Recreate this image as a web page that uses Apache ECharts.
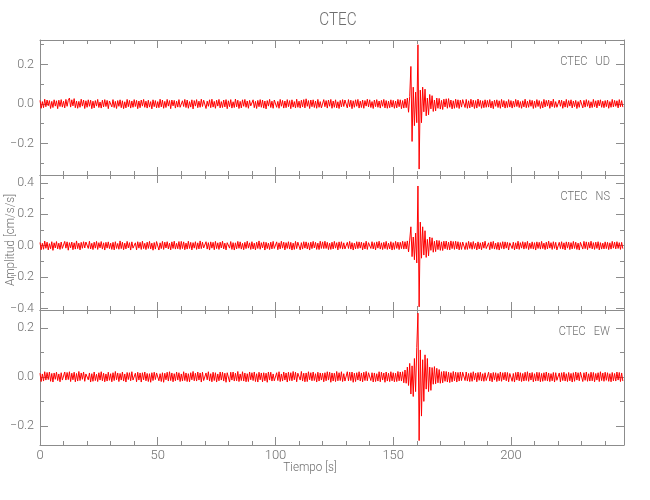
<!DOCTYPE html>
<html><head><meta charset="utf-8">
<script src="https://cdn.jsdelivr.net/npm/echarts@6/dist/echarts.min.js"></script>
<style>html,body{margin:0;padding:0;background:#fff}#c{width:650px;height:500px}</style>
</head><body><div id="c"></div>
<script>
const chartTitle = 'CTEC';
const componentLabels = ['CTEC   UD', 'CTEC   NS', 'CTEC   EW'];
const xAxisTitle = 'Tiempo [s]';
const yAxisTitle = 'Amplitud [cm/s/s]';
const xMax = 248;
const xLabelTicks = [0, 50, 100, 150, 200];
const xMinorTicks = [10,20,30,40,60,70,80,90,110,120,130,140,160,170,180,190,210,220,230,240];
const yLabelTicks = [[-0.2, 0, 0.2], [-0.4, -0.2, 0, 0.2, 0.4], [-0.2, 0, 0.2]];
const yMinorTicks = [[-0.3, -0.1, 0.1, 0.3], [-0.3, -0.1, 0.1, 0.3], [-0.1, 0.1]];
const yRanges = [[-0.36, 0.324], [-0.41, 0.45], [-0.278, 0.273]];
const sampleInterval = 0.5; // seconds between samples, starting at t = 0

const ud = [
.018,-.022,.012,-.019,.024,-.014,.020,-.009,.017,-.023,.013,-.018,.021,-.011,.016,-.024,.019,-.013,.022,-.016,
.014,-.020,.023,-.012,.018,.030,-.016,.021,-.010,.027,-.019,.015,-.022,.013,-.017,.024,-.011,.020,-.023,.016,
-.017,.021,-.012,.019,-.024,.014,-.020,.017,-.011,.023,-.018,.010,-.021,.019,-.015,.022,-.013,.018,-.024,.015,
.019,-.015,.022,-.018,.013,-.023,.017,-.012,.021,-.019,.016,-.024,.011,-.020,.023,-.014,.018,-.021,.015,-.017,
.022,-.013,.018,-.024,.015,-.019,.020,-.011,.023,-.017,.014,-.021,.019,-.016,.012,-.025,.021,-.014,.017,-.020,
.012,-.019,.024,-.015,.020,-.022,.013,-.018,.023,-.011,.017,-.024,.020,-.010,.018,-.021,.014,-.016,.022,-.017,
-.021,.016,-.013,.023,-.018,.020,-.022,.012,-.016,.021,-.025,.017,-.011,.022,-.019,.014,-.017,.024,-.013,.019,
.018,-.023,.014,-.012,.021,-.019,.024,-.016,.013,-.022,.019,-.011,.023,-.020,.012,-.018,.020,-.015,.022,-.024,
.016,-.014,.022,-.021,.011,-.018,.025,-.015,.019,-.023,.013,-.020,.021,-.012,.023,-.017,.015,-.022,.018,-.010,
-.015,.021,-.019,.013,-.023,.018,-.014,.022,-.017,.020,-.021,.015,-.025,.017,-.011,.023,-.018,.014,-.022,.020,
.020,-.017,.013,-.022,.023,-.012,.018,-.021,.015,-.019,.022,-.014,.017,-.024,.021,-.016,.012,-.020,.024,-.017,
.014,-.021,.019,-.015,.022,-.020,.026,-.012,.017,-.023,.020,-.014,.021,-.018,.015,-.022,.023,-.017,.012,-.020,
-.018,.022,-.014,.017,-.021,.020,-.012,.023,-.022,.015,-.017,.021,-.020,.011,-.023,.018,-.015,.022,-.013,.020,
.017,-.020,.022,-.014,.019,-.024,.016,-.017,.021,-.012,.023,-.021,.014,-.018,.020,-.022,.017,-.011,.024,-.015,
.021,-.018,.012,-.023,.020,-.014,.022,-.017,.015,-.021,.018,-.012,.023,-.020,.017,-.022,.014,-.019,.021,-.016,
.018,-.022,.015,-.020,.023,-.014,.021,-.024,.017,-.021,.025,-.019,.030,-.042,.038,.190,-.190,.085,-.110,.060,
-.095,.300,-.330,.070,-.095,.085,-.040,.075,-.060,.030,-.055,.048,-.025,.042,-.038,.020,-.035,.030,-.022,.028,
-.026,.018,-.028,.024,-.015,.026,-.022,.027,-.017,.020,-.025,.016,-.022,.024,-.018,.021,-.023,.019,-.016,.022,
.021,-.018,.023,-.022,.016,-.020,.024,-.015,.019,-.023,.017,-.021,.025,-.013,.018,-.022,.016,-.019,.021,-.017,
.018,-.016,.022,-.020,.014,-.024,.019,-.012,.021,-.018,.016,-.022,.023,-.015,.017,-.021,.013,-.018,.022,-.016,
.017,-.021,.014,-.016,.023,-.013,.019,-.018,.012,-.022,.016,-.015,.024,-.019,.014,-.017,.021,-.012,.018,-.023,
.015,-.018,.022,-.013,.017,-.023,.012,-.020,.023,-.015,.018,-.011,.020,-.022,.015,-.014,.024,-.018,.012,-.017,
-.017,.020,-.012,.019,-.022,.014,-.016,.023,-.018,.017,-.011,.021,-.020,.015,-.014,.018,-.023,.012,-.017,.020,
.014,-.020,.018,-.016,.022,-.012,.017,-.021,.011,-.018,.023,-.014,.016,-.020,.019,-.010,.021,-.017,.014,-.019,
.017,-.014,.020,-.022,.012,-.017,.023,-.015,.018,-.012,.016,-.020,.022,-.014,.017,-.016
];

const ns = [
.020,-.026,.015,-.023,.029,-.017,.022,-.027,.013,-.020,.025,-.030,.018,-.015,.026,-.021,.016,-.024,.023,-.018,
-.021,.027,-.016,.024,-.029,.019,-.014,.023,-.026,.018,-.022,.030,-.019,.016,-.027,.021,-.017,.025,-.015,.023,
.024,-.018,.028,-.021,.015,-.025,.022,-.016,.027,-.024,.019,-.014,.026,-.022,.018,-.028,.021,-.016,.024,-.019,
.016,-.024,.021,-.027,.025,-.018,.014,-.023,.030,-.019,.022,-.026,.016,-.021,.027,-.015,.019,-.028,.024,-.016,
-.023,.018,-.027,.025,-.016,.021,-.024,.028,-.019,.015,-.025,.022,-.018,.027,-.021,.016,-.029,.020,-.022,.026,
.021,-.028,.018,-.019,.027,-.024,.022,-.015,.025,-.021,.016,-.027,.024,-.018,.028,-.022,.015,-.020,.026,-.024,
.027,-.019,.024,-.026,.016,-.022,.028,-.018,.021,-.027,.019,-.016,.025,-.024,.018,-.021,.030,-.019,.022,-.015,
-.018,.025,-.022,.019,-.028,.024,-.016,.021,-.026,.027,-.019,.018,-.024,.022,-.015,.028,-.021,.016,-.027,.019,
.022,-.016,.026,-.024,.019,-.028,.018,-.021,.027,-.017,.024,-.022,.015,-.026,.021,-.019,.028,-.016,.018,-.024,
.025,-.021,.016,-.027,.022,-.018,.030,-.023,.019,-.015,.024,-.028,.021,-.019,.016,-.025,.022,-.021,.027,-.018,
-.019,.024,-.026,.018,-.021,.028,-.016,.022,-.027,.019,-.018,.025,-.022,.021,-.028,.016,-.024,.027,-.019,.022,
.021,-.027,.019,-.022,.025,-.016,.024,-.021,.018,-.028,.022,-.019,.027,-.015,.021,-.024,.016,-.025,.028,-.018,
.024,-.019,.028,-.018,.021,-.025,.016,-.024,.022,-.021,.027,-.016,.019,-.027,.024,-.018,.025,-.022,.018,-.021,
-.025,.021,-.018,.027,-.022,.019,-.028,.016,-.021,.025,-.019,.024,-.016,.022,-.027,.018,-.021,.028,-.024,.019,
.022,-.018,.025,-.021,.019,-.027,.024,-.016,.028,-.022,.018,-.025,.021,-.019,.027,-.024,.016,-.021,.025,-.028,
.019,-.024,.027,-.018,.022,-.025,.021,-.019,.028,-.022,.025,-.021,.030,-.040,.035,.120,-.070,.055,-.090,.080,
-.110,.380,-.390,.150,-.080,.120,-.060,.095,-.075,.040,-.065,.055,-.030,.050,-.042,.028,-.038,.034,-.025,.032,
-.030,.024,-.031,.028,-.020,.029,-.025,.022,-.027,.030,-.019,.026,-.024,.028,-.021,.025,-.027,.020,-.024,.023,
.022,-.025,.019,-.024,.027,-.018,.021,-.023,.026,-.019,.016,-.027,.024,-.021,.018,-.026,.022,-.016,.028,-.019,
-.021,.018,-.026,.024,-.019,.027,-.022,.016,-.024,.021,-.028,.019,-.018,.025,-.022,.024,-.016,.021,-.027,.018,
.025,-.019,.022,-.027,.018,-.021,.028,-.024,.019,-.016,.025,-.022,.021,-.018,.027,-.025,.016,-.019,.024,-.022,
.019,-.028,.024,-.018,.021,-.022,.027,-.019,.016,-.025,.022,-.021,.028,-.016,.019,-.024,.025,-.018,.021,-.027,
-.024,.021,-.019,.025,-.022,.018,-.027,.024,-.016,.022,-.025,.019,-.021,.027,-.018,.022,-.024,.016,-.028,.021,
.018,-.022,.027,-.019,.024,-.025,.021,-.016,.028,-.021,.019,-.024,.022,-.018,.025,-.027,.019,-.022,.016,-.021,
.024,-.019,.021,-.025,.018,-.022,.027,-.016,.022,-.021,.025,-.018,.019,-.024,.021,-.019
];

const ew = [
.015,-.019,.012,-.017,.021,-.013,.018,-.011,.020,-.018,.014,-.021,.016,-.010,.019,-.015,.012,-.020,.017,-.013,
-.016,.020,-.013,.018,-.011,.021,-.019,.015,-.012,.019,-.020,.014,-.017,.022,-.015,.016,-.010,.020,-.018,.012,
.019,-.012,.016,-.021,.013,-.018,.020,-.015,.011,-.019,.017,-.013,.021,-.016,.015,-.020,.012,-.017,.019,-.014,
.013,-.020,.017,-.015,.022,-.012,.016,-.019,.014,-.013,.020,-.017,.012,-.021,.018,-.011,.017,-.016,.021,-.013,
-.017,.015,-.020,.019,-.013,.016,-.021,.017,-.012,.020,-.016,.014,-.019,.013,-.022,.017,-.015,.019,-.011,.016,
.020,-.016,.013,-.019,.017,-.022,.015,-.012,.019,-.017,.021,-.015,.016,-.020,.013,-.016,.020,-.013,.017,-.019,
.012,-.017,.021,-.015,.016,-.019,.013,-.020,.017,-.012,.022,-.016,.015,-.017,.020,-.013,.016,-.021,.019,-.015,
-.019,.016,-.012,.021,-.017,.013,-.020,.019,-.015,.017,-.021,.012,-.016,.020,-.013,.019,-.017,.015,-.022,.017,
.016,-.021,.019,-.013,.020,-.017,.015,-.016,.022,-.019,.012,-.015,.021,-.017,.016,-.020,.013,-.019,.020,-.012,
.017,-.015,.020,-.019,.013,-.021,.019,-.012,.016,-.020,.017,-.016,.015,-.022,.020,-.013,.019,-.017,.012,-.016,
-.020,.017,-.015,.021,-.019,.012,-.017,.020,-.013,.016,-.021,.019,-.015,.017,-.016,.022,-.012,.019,-.020,.015,
.019,-.013,.022,-.017,.015,-.020,.016,-.019,.021,-.012,.017,-.016,.020,-.015,.013,-.021,.019,-.017,.016,-.013,
.015,-.020,.017,-.016,.021,-.013,.019,-.022,.016,-.017,.015,-.019,.022,-.016,.017,-.015,.021,-.019,.013,-.017,
-.017,.021,-.016,.019,-.015,.020,-.022,.015,-.019,.017,-.013,.021,-.017,.016,-.020,.019,-.015,.022,-.016,.017,
.020,-.015,.017,-.021,.016,-.019,.013,-.017,.021,-.020,.019,-.013,.016,-.022,.020,-.017,.015,-.019,.021,-.016,
.017,-.020,.015,-.019,.022,-.016,.020,-.017,.021,-.024,.028,-.026,.040,-.035,.055,-.070,.045,-.080,.075,-.060,
.120,.260,-.260,.110,-.160,.070,-.100,.090,-.050,.075,-.060,.040,-.055,.038,-.030,.042,-.028,.035,-.024,.030,
-.026,.021,-.024,.023,-.018,.022,-.021,.019,-.023,.017,-.020,.022,-.016,.019,-.021,.018,-.017,.020,-.015,.019,
.018,-.015,.020,-.017,.014,-.019,.017,-.018,.021,-.013,.016,-.020,.018,-.014,.019,-.017,.013,-.018,.017,-.015,
-.014,.019,-.017,.015,-.020,.018,-.013,.017,-.019,.014,-.016,.020,-.018,.017,-.012,.019,-.016,.018,-.020,.014,
.017,-.018,.014,-.021,.018,-.013,.020,-.016,.017,-.019,.014,-.017,.019,-.015,.021,-.018,.016,-.013,.018,-.020,
.013,-.017,.019,-.016,.018,-.020,.014,-.018,.017,-.015,.020,-.017,.016,-.019,.013,-.016,.018,-.021,.017,-.014,
-.018,.016,-.020,.017,-.015,.019,-.017,.013,-.019,.018,-.016,.014,-.021,.017,-.018,.020,-.013,.017,-.016,.019,
.016,-.019,.017,-.014,.020,-.018,.013,-.017,.019,-.016,.018,-.020,.014,-.013,.017,-.019,.021,-.015,.016,-.018,
.019,-.014,.017,-.018,.013,-.020,.018,-.016,.014,-.017,.020,-.013,.018,-.019,.016,-.017
];

const traces = [ud, ns, ew];

const axisColor = '#8c8c8c';
const textColor = '#6e6e6e';
const fontFam = "Roboto,'Liberation Sans',sans-serif";
const gridTops = [40, 175, 310];
const gridH = 135;

function fmtY(v) {
  const s = Math.abs(v).toFixed(1);
  return v < -1e-9 ? '\u2212' + s : s;
}

const grids = [], xAxes = [], yAxes = [], series = [], graphics = [];
for (let g = 0; g < 3; g++) {
  grids.push({ left: 40, right: 26, top: gridTops[g], height: gridH, containLabel: false });
  const mkX = (pos, ticks, len, line, labels) => ({
    type: 'value', gridIndex: g, position: pos, min: 0, max: xMax,
    axisLine: { show: line, onZero: false, lineStyle: { color: axisColor, width: 1 } },
    axisTick: { show: true, inside: true, length: len, customValues: ticks, lineStyle: { color: axisColor } },
    axisLabel: { show: labels, customValues: ticks, color: textColor, fontSize: 13, fontWeight: 300, fontFamily: fontFam, margin: 4 },
    splitLine: { show: false }
  });
  xAxes.push(mkX('bottom', xLabelTicks, 8, true, g === 2));
  xAxes.push(mkX('bottom', xMinorTicks, 4, false, false));
  xAxes.push(mkX('top', xLabelTicks, 8, true, false));
  xAxes.push(mkX('top', xMinorTicks, 4, false, false));
  const mkY = (pos, ticks, len, line, labels) => ({
    type: 'value', gridIndex: g, position: pos, min: yRanges[g][0], max: yRanges[g][1],
    axisLine: { show: line, onZero: false, lineStyle: { color: axisColor, width: 1 } },
    axisTick: { show: true, inside: true, length: len, customValues: ticks, lineStyle: { color: axisColor } },
    axisLabel: { show: labels, customValues: ticks, formatter: fmtY, color: textColor, fontSize: 12.5, fontWeight: 300, fontFamily: fontFam, margin: 6 },
    splitLine: { show: false }
  });
  yAxes.push(mkY('left', yLabelTicks[g], 8, true, true));
  yAxes.push(mkY('left', yMinorTicks[g], 4, false, false));
  yAxes.push(mkY('right', yLabelTicks[g], 8, true, false));
  yAxes.push(mkY('right', yMinorTicks[g], 4, false, false));
  series.push({
    type: 'line', xAxisIndex: 4 * g, yAxisIndex: 4 * g, showSymbol: false, symbol: 'none',
    sampling: 'none', animation: false, clip: true,
    lineStyle: { color: '#ff0000', width: 1 },
    data: traces[g].map((v, i) => [i * sampleInterval, v])
  });
  graphics.push({
    type: 'text', x: 610, y: gridTops[g] + 22, scaleX: 0.85, originX: 0,
    style: { text: componentLabels[g], fill: textColor, fontSize: 13, fontWeight: 300, fontFamily: fontFam,
      align: 'right', verticalAlign: 'middle', textAlign: 'right', textVerticalAlign: 'middle' }
  });
}
graphics.push({ type: 'text', x: 338, y: 20, scaleX: 0.8,
  style: { text: chartTitle, fill: textColor, fontSize: 19, fontWeight: 300, fontFamily: fontFam,
    align: 'center', verticalAlign: 'middle', textAlign: 'center', textVerticalAlign: 'middle' } });
graphics.push({ type: 'text', x: 310, y: 468, scaleX: 0.9,
  style: { text: xAxisTitle, fill: textColor, fontSize: 13, fontWeight: 300, fontFamily: fontFam,
    align: 'center', verticalAlign: 'middle', textAlign: 'center', textVerticalAlign: 'middle' } });
graphics.push({ type: 'text', x: 11, y: 240, rotation: Math.PI / 2, scaleX: 0.9,
  style: { text: yAxisTitle, fill: textColor, fontSize: 13, fontWeight: 300, fontFamily: fontFam,
    align: 'center', verticalAlign: 'middle', textAlign: 'center', textVerticalAlign: 'middle' } });

const chart = echarts.init(document.getElementById('c'), null, { renderer: 'canvas' });
chart.setOption({
  animation: false,
  backgroundColor: '#fff',
  grid: grids, xAxis: xAxes, yAxis: yAxes, series: series, graphic: graphics
});
</script></body></html>
